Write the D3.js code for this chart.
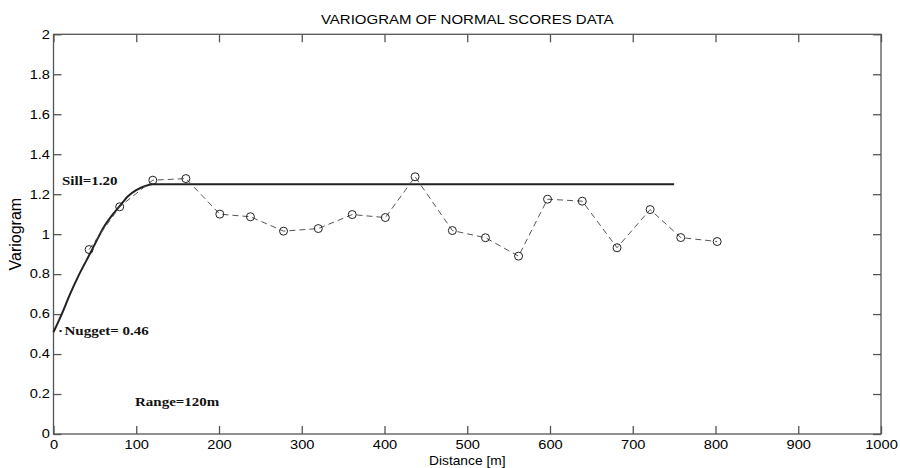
<!DOCTYPE html>
<html><head><meta charset="utf-8">
<script src="https://cdn.jsdelivr.net/npm/d3@7"></script>
<style>body{margin:0;background:#fff}svg{display:block}</style>
</head><body><svg id="c" width="900" height="468"></svg>
<script>
// experimental variogram
const lagDist = [43, 80, 120, 160, 201, 238, 278, 320, 361, 401, 437, 482, 522, 562, 597, 639, 681, 721, 758, 802];
const gammaVal = [0.923, 1.137, 1.270, 1.278, 1.100, 1.087, 1.015, 1.028, 1.098, 1.083, 1.287, 1.018, 0.982, 0.890, 1.175, 1.165, 0.932, 1.123, 0.983, 0.963];
// fitted model curve
const modelDist = [0, 10, 20, 30, 40, 50, 60, 70, 80, 90, 100, 110, 120, 750];
const modelVal = [0.51, 0.60, 0.70, 0.79, 0.87, 0.95, 1.03, 1.09, 1.14, 1.19, 1.22, 1.24, 1.25, 1.25];
const xTicks = [0,100,200,300,400,500,600,700,800,900,1000];
const yTicks = [0,0.2,0.4,0.6,0.8,1,1.2,1.4,1.6,1.8,2];

const svg = d3.select("#c");
const L = 53.5, R = 881, T = 34.3, B = 434;
const x = d3.scaleLinear().domain([0,1000]).range([L,R]);
const y = d3.scaleLinear().domain([0,2]).range([B,T]);
const axCol = "#555";
const fmt = d => String(d);
const font = "Liberation Sans, Arial, sans-serif";
const serif = "Liberation Serif, Times New Roman, serif";

function stext(px, py, str, size, sx, anchor, fam, bold) {
  const g = svg.append("g").attr("transform", `translate(${px},${py}) scale(${sx},1)`);
  g.append("text").attr("text-anchor", anchor || "start")
    .attr("font-family", fam || font).attr("font-size", size)
    .attr("font-weight", bold ? "bold" : "normal").attr("fill", bold ? "#111" : "#000").text(str);
  return g;
}

// frame
svg.append("rect").attr("x",L).attr("y",T).attr("width",R-L).attr("height",B-T)
  .attr("fill","none").attr("stroke",axCol).attr("stroke-width",1.3);

// bottom axis
const gx = svg.append("g").attr("transform",`translate(0,${B})`)
  .call(d3.axisBottom(x).tickValues(xTicks).tickFormat(fmt).tickSizeInner(-8).tickSizeOuter(0));
gx.select(".domain").remove();
gx.selectAll("line").attr("stroke",axCol).attr("stroke-width",1.3);
gx.selectAll("text").attr("font-family",font).attr("font-size",12).attr("fill","#000")
  .attr("y",0).attr("dy",null).attr("transform","translate(0,14.6) scale(1.22,1)");
// top ticks
const gt = svg.append("g").attr("transform",`translate(0,${T})`)
  .call(d3.axisTop(x).tickValues(xTicks).tickFormat("").tickSizeInner(-8).tickSizeOuter(0));
gt.select(".domain").remove();
gt.selectAll("line").attr("stroke",axCol).attr("stroke-width",1.3);
// left axis
const gy = svg.append("g").attr("transform",`translate(${L},0)`)
  .call(d3.axisLeft(y).tickValues(yTicks).tickFormat(fmt).tickSizeInner(-8).tickSizeOuter(0));
gy.select(".domain").remove();
gy.selectAll("line").attr("stroke",axCol).attr("stroke-width",1.3);
gy.selectAll("text").attr("font-family",font).attr("font-size",12).attr("fill","#000")
  .attr("x",0).attr("transform","translate(-3.5,0) scale(1.22,1)");
// right ticks
const gr = svg.append("g").attr("transform",`translate(${R},0)`)
  .call(d3.axisRight(y).tickValues(yTicks).tickFormat("").tickSizeInner(-8).tickSizeOuter(0));
gr.select(".domain").remove();
gr.selectAll("line").attr("stroke",axCol).attr("stroke-width",1.3);

// model curve
const model = modelDist.map((d,i)=>[d, modelVal[i]]);
svg.append("path").datum(model)
  .attr("d", d3.line().x(d=>x(d[0])).y(d=>y(d[1])).curve(d3.curveMonotoneX))
  .attr("fill","none").attr("stroke","#222").attr("stroke-width",2);

// experimental
const pts = lagDist.map((d,i)=>[d, gammaVal[i]]);
svg.append("path").datum(pts)
  .attr("d", d3.line().x(d=>x(d[0])).y(d=>y(d[1])))
  .attr("fill","none").attr("stroke","#555").attr("stroke-width",1).attr("stroke-dasharray","6,4");
svg.selectAll("circle.p").data(pts).enter().append("circle")
  .attr("cx",d=>x(d[0])).attr("cy",d=>y(d[1])).attr("r",4)
  .attr("fill","none").attr("stroke","#222").attr("stroke-width",1);

// texts
stext((L+R)/2, 24, "VARIOGRAM OF NORMAL SCORES DATA", 12.5, 1.2, "middle");
stext((L+R)/2, 465, "Distance [m]", 13, 1.06, "middle");
svg.append("text").attr("transform",`translate(21,${(T+B)/2}) rotate(-90)`).attr("text-anchor","middle")
  .attr("font-family",font).attr("font-size",16).text("Variogram");

stext(62, 184.5, "Sill=1.20", 12.5, 1.2, "start", serif, true);
stext(58, 335, "·", 12.5, 1.2, "start", serif, true);
stext(64.5, 335, "Nugget= 0.46", 12.5, 1.2, "start", serif, true);
stext(135, 406, "Range=120m", 12.5, 1.2, "start", serif, true);
</script></body></html>
